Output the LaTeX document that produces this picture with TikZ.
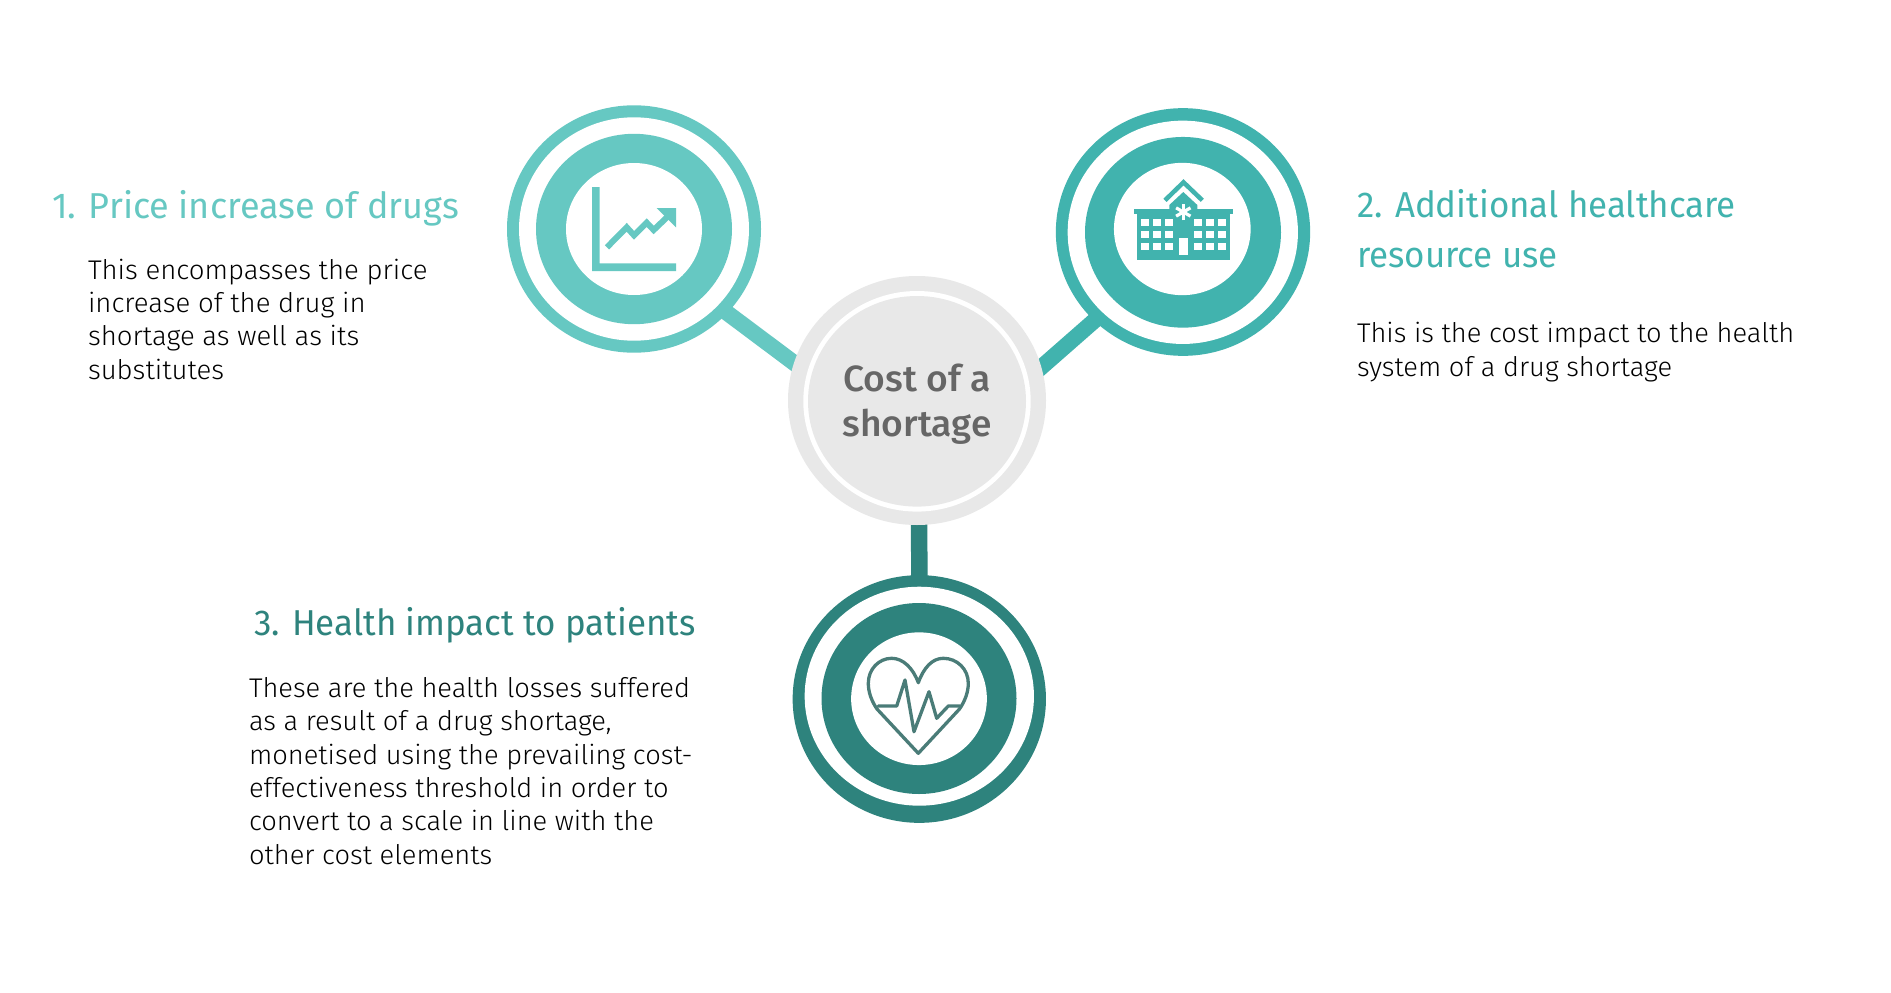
\documentclass[tikz,border=0pt]{standalone}
\usepackage{fontspec}
\usetikzlibrary{shapes.geometric}
\newfontfamily\bodyfontA[FakeStretch=1.02]{Fira Sans Light}
\newfontfamily\bodyfontB[FakeStretch=1.01]{Fira Sans Light}
\newfontfamily\bodyfontC[FakeStretch=1.01]{Fira Sans Light}
\newfontfamily\titlefontA[FakeStretch=1.0]{Fira Sans}
\newfontfamily\titlefont[FakeStretch=0.97]{Fira Sans}
\newfontfamily\hubfont[FakeStretch=1.02]{Fira Sans Medium}
\definecolor{tealA}{HTML}{66C8C2}
\definecolor{tealB}{HTML}{41B3AE}
\definecolor{tealC}{HTML}{2E837D}
\definecolor{heartline}{HTML}{4A7C78}
\definecolor{hubgrey}{HTML}{E8E8E8}
\definecolor{hubtext}{HTML}{666666}
\pgfdeclarelayer{bg}
\pgfsetlayers{bg,main}
\tikzset{
  blob/.style n args={3}{shape=ellipse,inner sep=0pt,outer sep=0pt,draw=none,fill=#3,minimum width=#1pt,minimum height=#2pt},
  link/.style={line width=16pt,shorten >=-5pt,shorten <=-5pt},
  titletext/.style={anchor=base west,inner sep=0pt,outer sep=0pt,align=left},
  bodytext/.style={anchor=base west,inner sep=0pt,outer sep=0pt,align=left,text=black},
}
\newcommand{\titlesize}{\fontsize{36}{49.5}\selectfont}
\newcommand{\bodysize}{\fontsize{27}{33.33}\selectfont}
\begin{document}
\begin{tikzpicture}[x=1pt,y=-1pt]
\useasboundingbox (0,0) rectangle (1891,993);
\begin{pgfonlayer}{bg}
\fill[white] (0,0) rectangle (1891,993);
\end{pgfonlayer}
% hub
\node[blob={258}{249}{hubgrey}] (hub) at (917,400.5) {};
\node[blob={227.4}{220.6}{white}] (hubw) at (917,401.3) {};
\node[blob={218}{210.6}{hubgrey}] (hubc) at (917,401.3) {};
\node[inner sep=0pt,text=hubtext,align=center,font=\hubfont\fontsize{36.5}{45}\selectfont] (hubt) at (917,403.8) {Cost of a\\shortage};
% ring 1
\node[blob={254}{247.4}{tealA}] (c1) at (634,229) {};
\node[blob={230}{223.4}{white}] (c1w) at (634,229) {};
\node[blob={196}{190.4}{tealA}] (c1r) at (634,229) {};
\node[blob={136}{132}{white}] (c1h) at (634,229) {};
% ring 2
\node[blob={254.3}{247.7}{tealB}] (c2) at (1183,232) {};
\node[blob={230.3}{223.3}{white}] (c2w) at (1182.8,232.3) {};
\node[blob={196}{190.7}{tealB}] (c2r) at (1183,232.3) {};
\node[blob={136.7}{132.3}{white}] (c2h) at (1182.3,229) {};
% ring 3
\node[blob={253.3}{247.7}{tealC}] (c3) at (919.3,699) {};
\node[blob={229.3}{219}{white}] (c3w) at (919.3,696.2) {};
\node[blob={195}{191}{tealC}] (c3r) at (919,698.5) {};
\node[blob={135.7}{132.7}{white}] (c3h) at (919,698.7) {};
% connectors
\begin{pgfonlayer}{bg}
\draw[link,tealA] (c1.-42) -- (hub.163.2);
\draw[link,tealB] (c2.225.4) -- (hub.15.1);
\draw[link,tealC,line width=16.5pt] (c3.90.8) -- (hub.-89.7);
\end{pgfonlayer}
% chart icon
\fill[tealA] (592,187) -- (599.7,187) -- (599.7,263.3) -- (676,263.3) -- (676,271) -- (592,271) -- cycle;
\draw[tealA,line width=6pt,miter limit=10] (607,247.3) -- (626.7,227.3) -- (634,235.3) -- (646.7,222.7) -- (653.7,230) -- (668.3,216);
\fill[tealA] (656.7,208) -- (676,208) -- (676,227.3) -- cycle;
% hospital icon
\draw[tealB,line width=4.5pt,miter limit=10] (1165,200.3) -- (1183.5,182.3) -- (1202.3,200.3);
\fill[tealB] (1169.3,210) -- (1169.3,205) -- (1183.3,192) -- (1197.3,205) -- (1197.3,210) -- cycle;
\fill[tealB] (1134.3,209.3) rectangle (1232.7,214.3);
\fill[tealB] (1137,214.3) rectangle (1230.3,260);
\foreach \xx in {1141.3,1153.3,1165.3,1194,1206,1218}
  \foreach \yy in {219,231,243}
    \fill[white] (\xx,\yy) rectangle +(7.7,7.3);
\fill[white] (1178.7,237.7) rectangle (1188.3,255);
\foreach \aa in {90,30,150}
  \draw[white,line width=3.2pt] (1183.3,212) ++(\aa:8.3) -- ++(\aa+180:16.6);
% heart icon
\draw[heartline,line width=3.3pt,line join=round] (918.3,753.3) -- (877,709) .. controls (871.5,701) and (868.3,692) .. (868.3,683.3) .. controls (868.3,669) and (879,658.3) .. (891.7,658.3) .. controls (903,658.3) and (913,668) .. (918.3,682.7) .. controls (923.6,668) and (932,658.3) .. (943.3,658.3) .. controls (957,658.3) and (968.3,669) .. (968.3,683.3) .. controls (968.3,692) and (965,701) .. (959.5,709) -- cycle;
\draw[heartline,line width=3.3pt,line join=round,line cap=round] (878.3,706) -- (896.7,706) -- (905,680) -- (914,731.7) -- (929,691.7) -- (936.7,718.3) -- (948.3,706) -- (960,706);
% text
\node[titletext,text=tealA,font=\titlefontA\titlesize] (t1) at (52,218.3) {1. Price increase of drugs};
\node[bodytext,font=\bodyfontA\bodysize] (b1) at (88,379) {This encompasses the price\\increase of the drug in\\shortage as well as its\\substitutes};
\node[titletext,text=tealB,font=\titlefont\titlesize] (t2) at (1357,267) {2. Additional healthcare\\resource use};
\node[bodytext,font=\bodyfontB\bodysize] (b2) at (1357,376) {This is the cost impact to the health\\system of a drug shortage};
\node[titletext,text=tealC,font=\titlefont\titlesize] (t3) at (254,635.7) {3. Health impact to patients};
\node[bodytext,font=\bodyfontC\bodysize] (b3) at (249,864) {These are the health losses suffered\\as a result of a drug shortage,\\monetised using the prevailing cost-\\effectiveness threshold in order to\\convert to a scale in line with the\\other cost elements};
\end{tikzpicture}
\end{document}
